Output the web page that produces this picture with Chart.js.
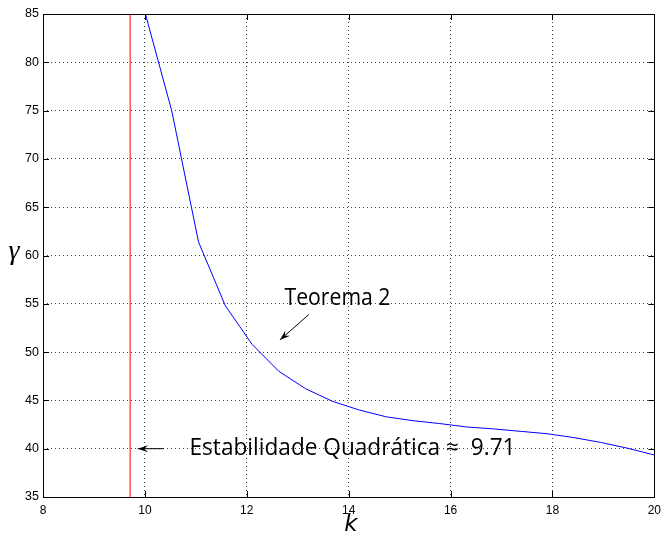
<!DOCTYPE html>
<html>
<head>
<meta charset="utf-8">
<script src="https://cdn.jsdelivr.net/npm/chart.js@4.4.1/dist/chart.umd.min.js"></script>
<style>
  html, body { margin: 0; padding: 0; background: #ffffff; }
  #c { display: block; }
</style>
</head>
<body>
<canvas id="c" width="667" height="535"></canvas>
<script>
// ---- data ----
const kValues = [10.000, 10.526, 11.053, 11.579, 12.105, 12.632, 13.158, 13.684, 14.211, 14.737,
                 15.263, 15.789, 16.316, 16.842, 17.368, 17.895, 18.421, 18.947, 19.474, 20.000];
const gammaValues = [85.2, 75.0, 61.4, 54.8, 50.8, 48.0, 46.2, 44.9, 44.0, 43.3,
                     42.9, 42.6, 42.25, 42.05, 41.8, 41.55, 41.15, 40.65, 40.05, 39.35];
const quadStabilityK = 9.71;
const xTicks = [8, 10, 12, 14, 16, 18, 20];
const yTicks = [35, 40, 45, 50, 55, 60, 65, 70, 75, 80, 85];
const xLabel = 'k';
const yLabel = 'γ';
const annotTeorema = { text: 'Teorema 2', tail: [13.22, 53.9], head: [12.65, 51.25] };
const annotEstab = { text: 'Estabilidade Quadrática ≈  9.71', tail: [10.37, 40.0], head: [9.86, 40.0] };

const curveData = kValues.map((k, i) => ({ x: k, y: gammaValues[i] }));
const redLine = [{ x: quadStabilityK, y: yTicks[0] }, { x: quadStabilityK, y: yTicks[yTicks.length - 1] }];

function drawArrow(ctx, x1, y1, x2, y2) {
  ctx.save();
  ctx.strokeStyle = '#000';
  ctx.fillStyle = '#000';
  ctx.lineWidth = 1;
  ctx.beginPath();
  ctx.moveTo(x1, y1);
  ctx.lineTo(x2, y2);
  ctx.stroke();
  const ang = Math.atan2(y2 - y1, x2 - x1);
  const len = 11, w = 0.33;
  ctx.beginPath();
  ctx.moveTo(x2, y2);
  ctx.lineTo(x2 - len * Math.cos(ang - w), y2 - len * Math.sin(ang - w));
  ctx.lineTo(x2 - len * 0.6 * Math.cos(ang), y2 - len * 0.6 * Math.sin(ang));
  ctx.lineTo(x2 - len * Math.cos(ang + w), y2 - len * Math.sin(ang + w));
  ctx.closePath();
  ctx.fill();
  ctx.restore();
}

function fitText(ctx, text, xLeft, baseline, targetWidth) {
  const w = ctx.measureText(text).width;
  ctx.save();
  ctx.translate(xLeft, baseline);
  ctx.scale(targetWidth / w, 1);
  ctx.fillText(text, 0, 0);
  ctx.restore();
}

const overlay = {
  id: 'overlay',
  afterDatasetsDraw(chart) {
    const ctx = chart.ctx;
    const xs = chart.scales.x, ys = chart.scales.y;
    const a = chart.chartArea;
    ctx.save();
    // axes box
    ctx.strokeStyle = '#000';
    ctx.lineWidth = 1;
    ctx.strokeRect(Math.round(a.left) + 0.5, Math.round(a.top) + 0.5,
                   Math.round(a.right - a.left), Math.round(a.bottom - a.top));
    // inner ticks
    const tl = 6;
    ctx.beginPath();
    xTicks.forEach(v => {
      const px = Math.round(xs.getPixelForValue(v)) + 0.5;
      ctx.moveTo(px, a.bottom); ctx.lineTo(px, a.bottom - tl);
      ctx.moveTo(px, a.top); ctx.lineTo(px, a.top + tl);
    });
    yTicks.forEach(v => {
      const py = Math.round(ys.getPixelForValue(v)) + 0.5;
      ctx.moveTo(a.left, py); ctx.lineTo(a.left + tl, py);
      ctx.moveTo(a.right, py); ctx.lineTo(a.right - tl, py);
    });
    ctx.stroke();

    // annotations
    ctx.fillStyle = '#000';
    ctx.textBaseline = 'alphabetic';
    ctx.font = '23px "Open Sans", "DejaVu Sans", sans-serif';
    fitText(ctx, annotTeorema.text, 284.5, 305, 106);
    fitText(ctx, annotEstab.text, 189.5, 454.5, 326);
    drawArrow(ctx, xs.getPixelForValue(annotTeorema.tail[0]), ys.getPixelForValue(annotTeorema.tail[1]),
                   xs.getPixelForValue(annotTeorema.head[0]), ys.getPixelForValue(annotTeorema.head[1]));
    drawArrow(ctx, xs.getPixelForValue(annotEstab.tail[0]), ys.getPixelForValue(annotEstab.tail[1]),
                   xs.getPixelForValue(annotEstab.head[0]), ys.getPixelForValue(annotEstab.head[1]));

    // axis titles
    ctx.textAlign = 'center';
    ctx.textBaseline = 'middle';
    ctx.font = 'italic 28px "Liberation Serif", serif';
    ctx.fillText(yLabel, 14, 252);
    ctx.font = 'italic 23px "DejaVu Sans", sans-serif';
    ctx.fillText(xLabel, 351, 525);
    ctx.restore();
  }
};

new Chart(document.getElementById('c'), {
  type: 'line',
  data: {
    datasets: [
      {
        label: 'Teorema 2',
        data: curveData,
        borderColor: '#0000ff',
        backgroundColor: '#0000ff',
        borderWidth: 1,
        pointRadius: 0,
        tension: 0,
        fill: false
      },
      {
        label: 'Estabilidade Quadrática',
        data: redLine,
        borderColor: '#ff0000',
        backgroundColor: '#ff0000',
        borderWidth: 1,
        pointRadius: 0,
        fill: false
      }
    ]
  },
  options: {
    responsive: false,
    animation: false,
    devicePixelRatio: 1,
    layout: { padding: { left: 0, top: 14, right: 10, bottom: 0 } },
    plugins: {
      legend: { display: false },
      tooltip: { enabled: false },
      title: { display: false }
    },
    scales: {
      x: {
        type: 'linear',
        min: xTicks[0],
        max: xTicks[xTicks.length - 1],
        afterBuildTicks(scale) { scale.ticks = xTicks.map(v => ({ value: v })); },
        afterFit(scale) { scale.height = 38; },
        border: { display: false, dash: [1, 3] },
        grid: {
          drawTicks: false,
          color: 'rgba(0,0,0,0.75)',
          lineWidth: 1
        },
        ticks: {
          padding: 6,
          color: '#000',
          maxRotation: 0,
          font: { family: '"Liberation Sans", Arial, sans-serif', size: 12 }
        }
      },
      y: {
        type: 'linear',
        min: yTicks[0],
        max: yTicks[yTicks.length - 1],
        afterBuildTicks(scale) { scale.ticks = yTicks.map(v => ({ value: v })); },
        afterFit(scale) { scale.width = 43; },
        border: { display: false, dash: [1, 3] },
        grid: {
          drawTicks: false,
          color: 'rgba(0,0,0,0.75)',
          lineWidth: 1
        },
        ticks: {
          padding: 4,
          color: '#000',
          font: { family: '"Liberation Sans", Arial, sans-serif', size: 12.5 }
        }
      }
    }
  },
  plugins: [overlay]
});
</script>
</body>
</html>
